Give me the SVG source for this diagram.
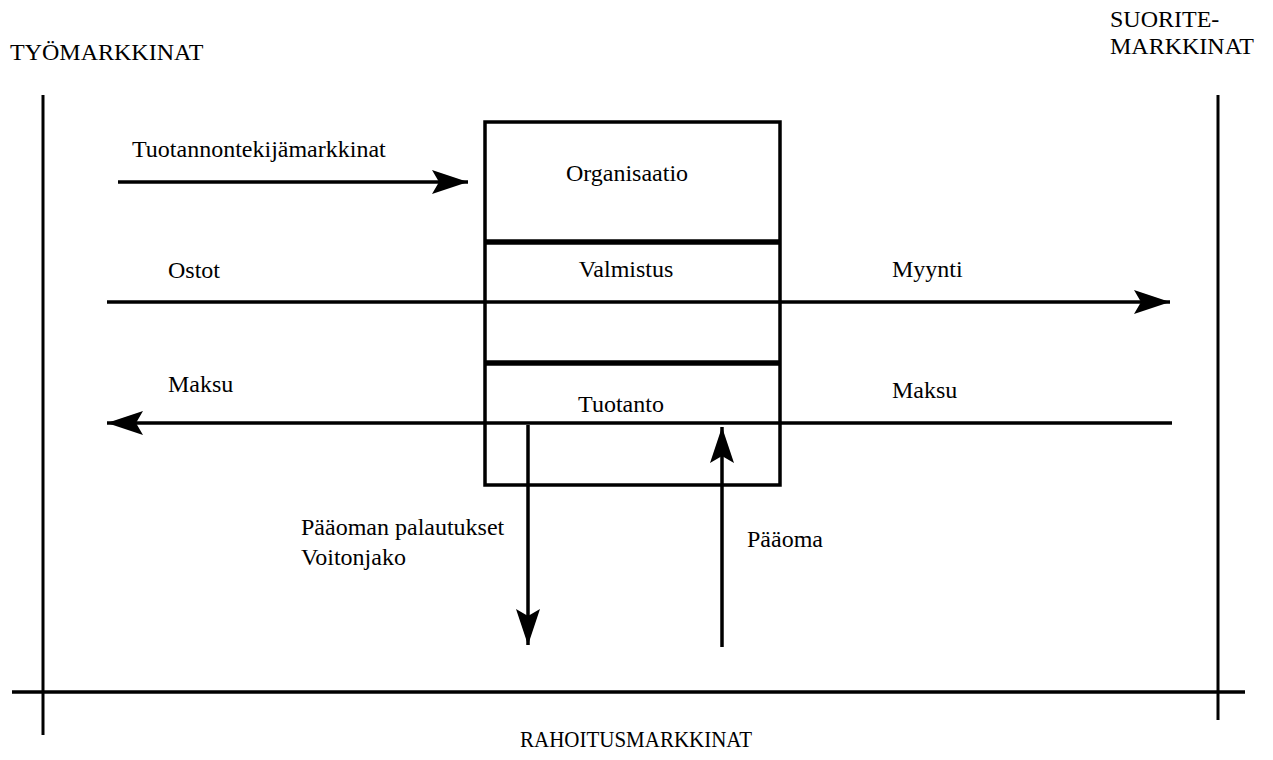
<svg xmlns="http://www.w3.org/2000/svg" width="1273" height="760" viewBox="0 0 1273 760">
<style>
text{font-family:"Liberation Serif","Times New Roman",serif;font-size:24px;fill:#000}
.ln{stroke:#000;stroke-width:3.5;fill:none}
.frame{stroke:#000;stroke-width:3;fill:none}
.box{stroke:#000;stroke-width:3.5;fill:#fff}
.div{stroke:#000;stroke-width:5.5}
.c{text-anchor:middle}
</style>
<defs>
<marker id="ah" viewBox="0 0 36 24" refX="36" refY="12" markerWidth="36" markerHeight="24" markerUnits="userSpaceOnUse" orient="auto">
<path d="M0,0 L36,12 L0,24 L7,12 Z" fill="#000"/>
</marker>
</defs>
<g id="frame">
<line class="frame" x1="43" y1="95" x2="43" y2="735"/>
<line class="frame" x1="1218" y1="95" x2="1218" y2="720"/>
<line class="ln" x1="12" y1="692" x2="1245" y2="692" stroke-width="4"/>
<text x="10" y="60">TYÖMARKKINAT</text>
<text x="1110" y="27">SUORITE-</text>
<text x="1110" y="54">MARKKINAT</text>
<text x="520" y="747" textLength="232" lengthAdjust="spacingAndGlyphs">RAHOITUSMARKKINAT</text>
</g>
<g id="organisaatio-box">
<rect class="box" x="485" y="122" width="295" height="363"/>
<line class="div" x1="485" y1="242" x2="780" y2="242"/>
<line class="div" x1="485" y1="363" x2="780" y2="363"/>
<text class="c" x="627" y="181">Organisaatio</text>
<text class="c" x="626" y="277">Valmistus</text>
<text class="c" x="621" y="412">Tuotanto</text>
</g>
<g id="connectors">
<line class="ln" x1="118" y1="182" x2="468" y2="182" marker-end="url(#ah)"/>
<line class="ln" x1="107" y1="302" x2="1170" y2="302" marker-end="url(#ah)"/>
<line class="ln" x1="1172" y1="423" x2="107" y2="423" marker-end="url(#ah)"/>
<line class="ln" x1="528" y1="425" x2="528" y2="645" marker-end="url(#ah)"/>
<line class="ln" x1="722" y1="647" x2="722" y2="427" marker-end="url(#ah)"/>
</g>
<g id="labels">
<text x="132" y="157">Tuotannontekijämarkkinat</text>
<text x="168" y="278">Ostot</text>
<text x="892" y="277">Myynti</text>
<text x="168" y="392">Maksu</text>
<text x="892" y="398">Maksu</text>
<text x="301" y="535">Pääoman palautukset</text>
<text x="301" y="565">Voitonjako</text>
<text x="747" y="547">Pääoma</text>
</g>
</svg>
